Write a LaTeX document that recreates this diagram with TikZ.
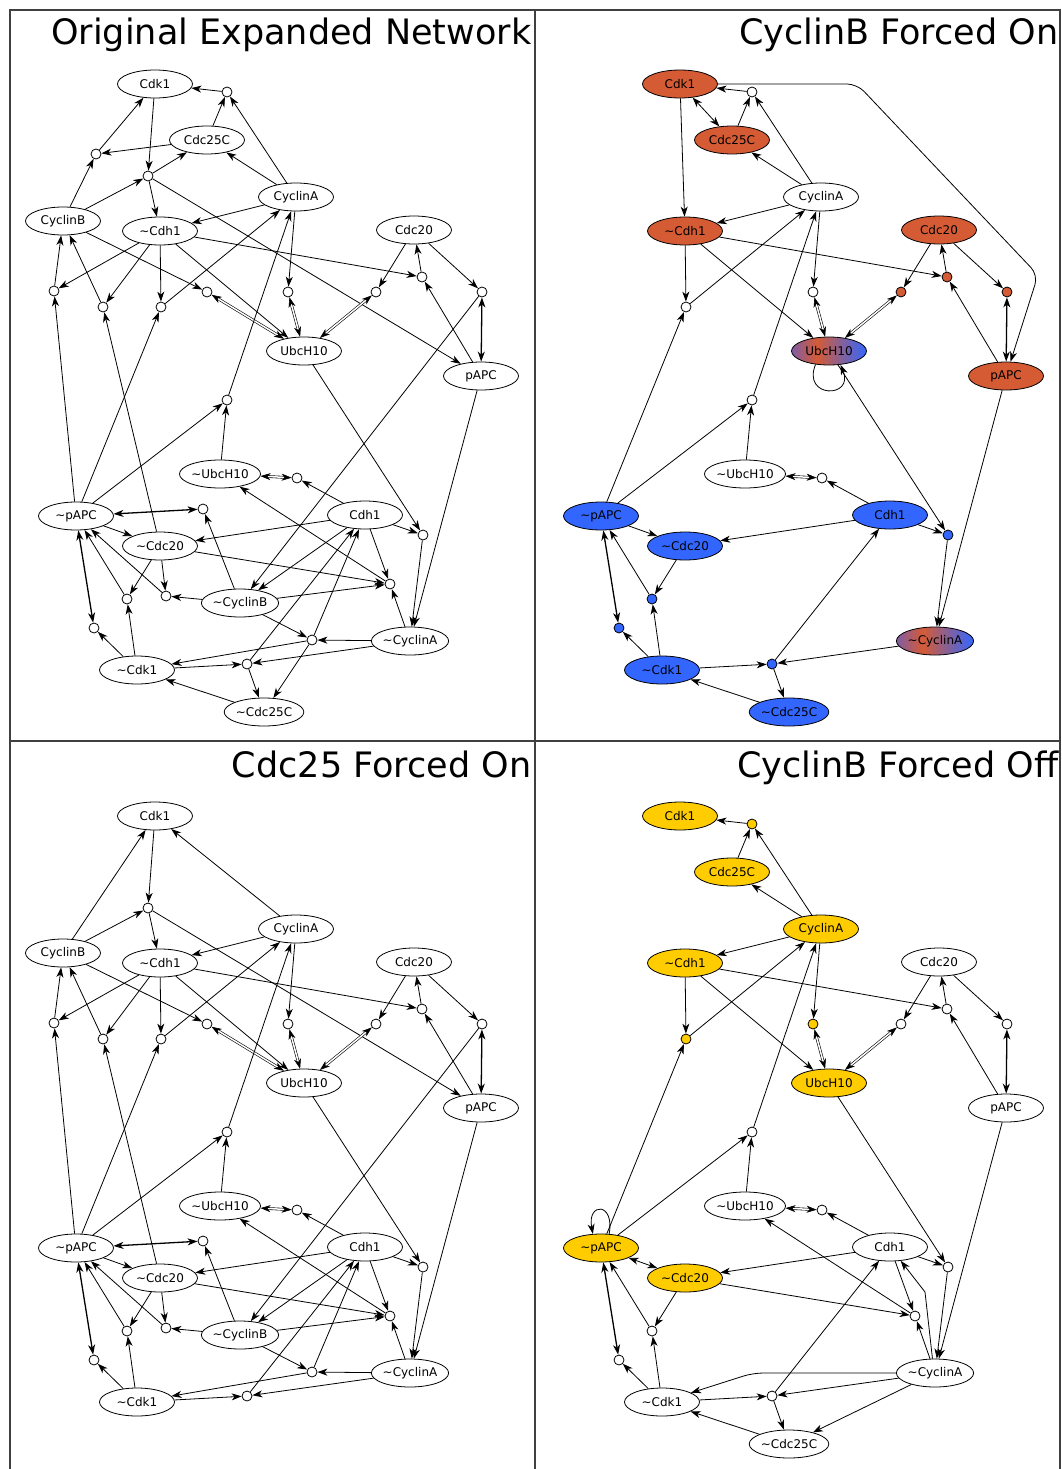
\documentclass[tikz,border=0pt]{standalone}
\usepackage{fontspec}
\setmainfont{DejaVu Sans}
\usetikzlibrary{shapes.geometric,arrows.meta}

\definecolor{forange}{RGB}{213,91,53}
\definecolor{fblue}{RGB}{51,102,255}
\definecolor{fyellow}{RGB}{255,204,0}
\definecolor{fpurple}{RGB}{128,92,165}
\pgfdeclarehorizontalshading{mixed}{100bp}{color(0bp)=(fpurple); color(25bp)=(fpurple); color(42bp)=(forange); color(75bp)=(fblue); color(100bp)=(fblue)}
\newcommand\nott{\textasciitilde}

\tikzset{
    gene/.style={ellipse, draw, fill=white, minimum width=75pt, minimum height=28pt, inner sep=0pt, font=\fontsize{12}{14}\selectfont},
    gate/.style={circle, draw, fill=white, minimum size=10pt, inner sep=0pt},
    orng/.style={fill=forange}, blu/.style={fill=fblue}, ylw/.style={fill=fyellow},
    mix/.style={shading=mixed},
    arr/.style={-{Stealth[length=10pt,width=7pt,inset=3pt]}},
    both/.style={{Stealth[length=10pt,width=7pt,inset=3pt]}-{Stealth[length=10pt,width=7pt,inset=3pt]}},
    pair/.style={both, line width=1.3pt},
    dbl/.style={both, double, double distance=1.5pt, line width=0.6pt},
    title/.style={anchor=base east, font=\fontsize{35}{40}\selectfont},
    frame/.style={draw=black!75, line width=1.6pt}
}

\begin{document}
\begin{tikzpicture}[x=1pt, y=-1pt, line width=0.8pt]
\useasboundingbox (0,0) rectangle (1062,1469);
\fill[white] (0,0) rectangle (1062,1469);

% panel frames
\draw[frame] (10,1469) -- (10,10) -- (1060,10) -- (1060,1469);
\draw[frame] (535,10) -- (535,1469);
\draw[frame] (10,741) -- (1060,741);

%% Original Expanded Network
\begin{scope}[name prefix=a-]
\node[title] (head) at (535,45) {Original Expanded Network};
\node[gene] (cdk1) at (155,84) {Cdk1};
\node[gene] (cdc25c) at (207,140) {Cdc25C};
\node[gene] (cyca) at (296,197) {CyclinA};
\node[gene] (cycb) at (63,221) {CyclinB};
\node[gene] (ncdh1) at (160,231) {\nott Cdh1};
\node[gene] (cdc20) at (414,230) {Cdc20};
\node[gene] (ubch10) at (304,351) {UbcH10};
\node[gene] (papc) at (481,376) {pAPC};
\node[gene] (nubch10) at (220,474) {\nott UbcH10};
\node[gene] (npapc) at (76,516) {\nott pAPC};
\node[gene] (cdh1) at (365,515) {Cdh1};
\node[gene] (ncdc20) at (160,546) {\nott Cdc20};
\node[gene] (ncycb) at (240,603) {\nott CyclinB};
\node[gene] (ncyca) at (410,641) {\nott CyclinA};
\node[gene] (ncdk1) at (137,670) {\nott Cdk1};
\node[gene] (ncdc25c) at (264,712) {\nott Cdc25C};
\node[gate] (g1) at (227,92) {};
\node[gate] (g2) at (96,154) {};
\node[gate] (g3) at (148,176) {};
\node[gate] (g4) at (54,291) {};
\node[gate] (g5) at (103,307) {};
\node[gate] (g6) at (161,307) {};
\node[gate] (g7) at (207,292) {};
\node[gate] (g8) at (288,292) {};
\node[gate] (g9) at (376,292) {};
\node[gate] (g10) at (422,277) {};
\node[gate] (g11) at (482,292) {};
\node[gate] (g12) at (227,400) {};
\node[gate] (g13) at (203,509) {};
\node[gate] (g14) at (127,599) {};
\node[gate] (g15) at (166,596) {};
\node[gate] (g16) at (94,628) {};
\node[gate] (g17) at (247,664) {};
\node[gate] (g18) at (297,478) {};
\node[gate] (g19) at (423,535) {};
\node[gate] (g20) at (390,584) {};
\node[gate] (g21) at (312,640) {};

\draw[arr] (cyca) -- (g1);
\draw[arr] (cdc25c) -- (g1);
\draw[arr] (g1) -- (cdk1);
\draw[arr] (cdc25c) -- (g2);
\draw[arr] (cycb) -- (g2);
\draw[arr] (g2) -- (cdk1);
\draw[arr] (cdk1) -- (g3);
\draw[arr] (cycb) -- (g3);
\draw[arr] (g3) -- (cdc25c);
\draw[arr] (g3) -- (ncdh1);
\draw[arr] (g3) -- (papc);
\draw[arr] (cyca) -- (cdc25c);
\draw[arr] (cyca) -- (ncdh1);
\draw[arr] (cyca) -- (g8);
\draw[arr] (ncdh1) -- (g4);
\draw[arr] (npapc) -- (g4);
\draw[arr] (g4) -- (cycb);
\draw[arr] (ncdh1) -- (g5);
\draw[arr] (ncdc20) -- (g5);
\draw[arr] (g5) -- (cycb);
\draw[arr] (ncdh1) -- (g6);
\draw[arr] (npapc) -- (g6);
\draw[arr] (g6) -- (cyca);
\draw[arr] (cycb) -- (g7);
\draw[dbl] (g7) -- (ubch10);
\draw[arr] (ncdh1) -- (ubch10);
\draw[arr] (ncdh1) -- (g10);
\draw[dbl] (g8) -- (ubch10);
\draw[arr] (cdc20) -- (g9);
\draw[dbl] (g9) -- (ubch10);
\draw[arr] (papc) -- (g10);
\draw[arr] (g10) -- (cdc20);
\draw[arr] (cdc20) -- (g11);
\draw[pair] (g11) -- (papc);
\draw[arr] (g11) -- (ncycb);
\draw[arr] (npapc) -- (g12);
\draw[arr] (nubch10) -- (g12);
\draw[arr] (g12) -- (cyca);
\draw[arr] (ubch10) -- (g19);
\draw[arr] (cdh1) -- (g19);
\draw[arr] (g19) -- (ncyca);
\draw[arr] (papc) -- (ncyca);
\draw[arr] (cdh1) -- (g18);
\draw[dbl] (g18) -- (nubch10);
\draw[arr] (cdh1) -- (ncdc20);
\draw[arr] (cdh1) -- (ncycb);
\draw[arr] (cdh1) -- (g20);
\draw[arr] (ncdc20) -- (g20);
\draw[arr] (ncycb) -- (g20);
\draw[arr] (ncyca) -- (g20);
\draw[arr] (g20) -- (nubch10);
\draw[arr] (ncycb) -- (g13);
\draw[pair] (g13) -- (npapc);
\draw[arr] (npapc) -- (ncdc20);
\draw[arr] (ncdc20) -- (g14);
\draw[arr] (ncdk1) -- (g14);
\draw[arr] (g14) -- (npapc);
\draw[arr] (ncdc20) -- (g15);
\draw[arr] (ncycb) -- (g15);
\draw[arr] (g15) -- (npapc);
\draw[arr] (ncdk1) -- (g16);
\draw[pair] (g16) -- (npapc);
\draw[arr] (ncdk1) -- (g17);
\draw[arr] (ncyca) -- (g17);
\draw[arr] (g17) -- (ncdc25c);
\draw[arr] (g17) -- (cdh1);
\draw[arr] (ncycb) -- (g21);
\draw[arr] (ncyca) -- (g21);
\draw[arr] (g21) -- (ncdk1);
\draw[arr] (g21) -- (ncdc25c);
\draw[arr] (g21) -- (cdh1);
\draw[arr] (ncdc25c) -- (ncdk1);
\end{scope}

%% CyclinB Forced On
\begin{scope}[shift={(525,0)}, name prefix=b-]
\node[title] (head) at (537,45) {CyclinB Forced On};
\node[gene, orng] (cdk1) at (155,84) {Cdk1};
\node[gene, orng] (cdc25c) at (207,140) {Cdc25C};
\node[gene] (cyca) at (296,197) {CyclinA};
\node[gene, orng] (ncdh1) at (160,231) {\nott Cdh1};
\node[gene, orng] (cdc20) at (414,230) {Cdc20};
\node[gene, mix] (ubch10) at (304,351) {UbcH10};
\node[gene, orng] (papc) at (481,376) {pAPC};
\node[gene] (nubch10) at (220,474) {\nott UbcH10};
\node[gene, blu] (npapc) at (76,516) {\nott pAPC};
\node[gene, blu] (cdh1) at (365,515) {Cdh1};
\node[gene, blu] (ncdc20) at (160,546) {\nott Cdc20};
\node[gene, mix] (ncyca) at (410,641) {\nott CyclinA};
\node[gene, blu] (ncdk1) at (137,670) {\nott Cdk1};
\node[gene, blu] (ncdc25c) at (264,712) {\nott Cdc25C};
\node[gate] (g1) at (227,92) {};
\node[gate] (g6) at (161,307) {};
\node[gate] (g8) at (288,292) {};
\node[gate, orng] (g9) at (376,292) {};
\node[gate, orng] (g10) at (422,277) {};
\node[gate, orng] (g11) at (482,292) {};
\node[gate] (g12) at (227,400) {};
\node[gate, blu] (g14) at (127,599) {};
\node[gate, blu] (g16) at (94,628) {};
\node[gate, blu] (g17) at (247,664) {};
\node[gate] (g18) at (297,478) {};
\node[gate, blu] (g19) at (423,535) {};
\coordinate (k1) at (332,84);
\coordinate (k2) at (513,275);

\draw[arr] (cyca) -- (g1);
\draw[arr] (cdc25c) -- (g1);
\draw[arr] (g1) -- (cdk1);
\draw[both] (cdk1) -- (cdc25c);
\draw[arr] (cdk1) -- (ncdh1);
\draw[arr, rounded corners=10pt] (cdk1) -- (k1) -- (k2) -- (papc);
\draw[arr] (cyca) -- (cdc25c);
\draw[arr] (cyca) -- (ncdh1);
\draw[arr] (cyca) -- (g8);
\draw[arr] (ncdh1) -- (g6);
\draw[arr] (npapc) -- (g6);
\draw[arr] (g6) -- (cyca);
\draw[arr] (npapc) -- (g12);
\draw[arr] (nubch10) -- (g12);
\draw[arr] (g12) -- (cyca);
\draw[arr] (ncdh1) -- (ubch10);
\draw[arr] (ncdh1) -- (g10);
\draw[dbl] (g8) -- (ubch10);
\draw[arr] (cdc20) -- (g9);
\draw[dbl] (g9) -- (ubch10);
\draw[arr] (papc) -- (g10);
\draw[arr] (g10) -- (cdc20);
\draw[arr] (cdc20) -- (g11);
\draw[pair] (g11) -- (papc);
\draw[arr] (ubch10.225) .. controls +(-14,34) and +(14,34) .. (ubch10.310);
\draw[arr] (ubch10) -- (g19);
\draw[arr] (cdh1) -- (g19);
\draw[arr] (g19) -- (ncyca);
\draw[arr] (papc) -- (ncyca);
\draw[arr] (cdh1) -- (g18);
\draw[dbl] (g18) -- (nubch10);
\draw[arr] (cdh1) -- (ncdc20);
\draw[arr] (npapc) -- (ncdc20);
\draw[arr] (ncdc20) -- (g14);
\draw[arr] (ncdk1) -- (g14);
\draw[arr] (g14) -- (npapc);
\draw[arr] (ncdk1) -- (g16);
\draw[pair] (g16) -- (npapc);
\draw[arr] (ncdk1) -- (g17);
\draw[arr] (ncyca) -- (g17);
\draw[arr] (g17) -- (ncdc25c);
\draw[arr] (g17) -- (cdh1);
\draw[arr] (ncdc25c) -- (ncdk1);
\end{scope}

%% Cdc25 Forced On
\begin{scope}[shift={(0,732)}, name prefix=c-]
\node[title] (head) at (535,45) {Cdc25 Forced On};
\node[gene] (cdk1) at (155,84) {Cdk1};
\node[gene] (cyca) at (296,197) {CyclinA};
\node[gene] (cycb) at (63,221) {CyclinB};
\node[gene] (ncdh1) at (160,231) {\nott Cdh1};
\node[gene] (cdc20) at (414,230) {Cdc20};
\node[gene] (ubch10) at (304,351) {UbcH10};
\node[gene] (papc) at (481,376) {pAPC};
\node[gene] (nubch10) at (220,474) {\nott UbcH10};
\node[gene] (npapc) at (76,516) {\nott pAPC};
\node[gene] (cdh1) at (365,515) {Cdh1};
\node[gene] (ncdc20) at (160,546) {\nott Cdc20};
\node[gene] (ncycb) at (240,603) {\nott CyclinB};
\node[gene] (ncyca) at (410,641) {\nott CyclinA};
\node[gene] (ncdk1) at (137,670) {\nott Cdk1};
\node[gate] (g3) at (148,176) {};
\node[gate] (g4) at (54,291) {};
\node[gate] (g5) at (103,307) {};
\node[gate] (g6) at (161,307) {};
\node[gate] (g7) at (207,292) {};
\node[gate] (g8) at (288,292) {};
\node[gate] (g9) at (376,292) {};
\node[gate] (g10) at (422,277) {};
\node[gate] (g11) at (482,292) {};
\node[gate] (g12) at (227,400) {};
\node[gate] (g13) at (203,509) {};
\node[gate] (g14) at (127,599) {};
\node[gate] (g15) at (166,596) {};
\node[gate] (g16) at (94,628) {};
\node[gate] (g17) at (247,664) {};
\node[gate] (g18) at (297,478) {};
\node[gate] (g19) at (423,535) {};
\node[gate] (g20) at (390,584) {};
\node[gate] (g21) at (312,640) {};

\draw[arr] (cyca) -- (cdk1);
\draw[arr] (cycb) -- (cdk1);
\draw[arr] (cdk1) -- (g3);
\draw[arr] (cycb) -- (g3);
\draw[arr] (g3) -- (ncdh1);
\draw[arr] (g3) -- (papc);
\draw[arr] (cyca) -- (ncdh1);
\draw[arr] (cyca) -- (g8);
\draw[arr] (ncdh1) -- (g4);
\draw[arr] (npapc) -- (g4);
\draw[arr] (g4) -- (cycb);
\draw[arr] (ncdh1) -- (g5);
\draw[arr] (ncdc20) -- (g5);
\draw[arr] (g5) -- (cycb);
\draw[arr] (ncdh1) -- (g6);
\draw[arr] (npapc) -- (g6);
\draw[arr] (g6) -- (cyca);
\draw[arr] (cycb) -- (g7);
\draw[dbl] (g7) -- (ubch10);
\draw[arr] (ncdh1) -- (ubch10);
\draw[arr] (ncdh1) -- (g10);
\draw[dbl] (g8) -- (ubch10);
\draw[arr] (cdc20) -- (g9);
\draw[dbl] (g9) -- (ubch10);
\draw[arr] (papc) -- (g10);
\draw[arr] (g10) -- (cdc20);
\draw[arr] (cdc20) -- (g11);
\draw[pair] (g11) -- (papc);
\draw[arr] (g11) -- (ncycb);
\draw[arr] (npapc) -- (g12);
\draw[arr] (nubch10) -- (g12);
\draw[arr] (g12) -- (cyca);
\draw[arr] (ubch10) -- (g19);
\draw[arr] (cdh1) -- (g19);
\draw[arr] (g19) -- (ncyca);
\draw[arr] (papc) -- (ncyca);
\draw[arr] (cdh1) -- (g18);
\draw[dbl] (g18) -- (nubch10);
\draw[arr] (cdh1) -- (ncdc20);
\draw[arr] (cdh1) -- (ncycb);
\draw[arr] (cdh1) -- (g20);
\draw[arr] (ncdc20) -- (g20);
\draw[arr] (ncycb) -- (g20);
\draw[arr] (ncyca) -- (g20);
\draw[arr] (g20) -- (nubch10);
\draw[arr] (ncycb) -- (g13);
\draw[pair] (g13) -- (npapc);
\draw[arr] (npapc) -- (ncdc20);
\draw[arr] (ncdc20) -- (g14);
\draw[arr] (ncdk1) -- (g14);
\draw[arr] (g14) -- (npapc);
\draw[arr] (ncdc20) -- (g15);
\draw[arr] (ncycb) -- (g15);
\draw[arr] (g15) -- (npapc);
\draw[arr] (ncdk1) -- (g16);
\draw[pair] (g16) -- (npapc);
\draw[arr] (ncdk1) -- (g17);
\draw[arr] (ncyca) -- (g17);
\draw[arr] (g17) -- (cdh1);
\draw[arr] (ncycb) -- (g21);
\draw[arr] (ncyca) -- (g21);
\draw[arr] (g21) -- (ncdk1);
\draw[arr] (g21) -- (cdh1);
\end{scope}

%% CyclinB Forced Off
\begin{scope}[shift={(525,732)}, name prefix=d-]
\node[title] (head) at (537,45) {CyclinB Forced Off};
\node[gene, ylw] (cdk1) at (155,84) {Cdk1};
\node[gene, ylw] (cdc25c) at (207,140) {Cdc25C};
\node[gene, ylw] (cyca) at (296,197) {CyclinA};
\node[gene, ylw] (ncdh1) at (160,231) {\nott Cdh1};
\node[gene] (cdc20) at (414,230) {Cdc20};
\node[gene, ylw] (ubch10) at (304,351) {UbcH10};
\node[gene] (papc) at (481,376) {pAPC};
\node[gene] (nubch10) at (220,474) {\nott UbcH10};
\node[gene, ylw] (npapc) at (76,516) {\nott pAPC};
\node[gene] (cdh1) at (365,515) {Cdh1};
\node[gene, ylw] (ncdc20) at (160,546) {\nott Cdc20};
\node[gene] (ncyca) at (410,641) {\nott CyclinA};
\node[gene] (ncdk1) at (137,670) {\nott Cdk1};
\node[gene] (ncdc25c) at (264,712) {\nott Cdc25C};
\node[gate, ylw] (g1) at (227,92) {};
\node[gate, ylw] (g6) at (161,307) {};
\node[gate, ylw] (g8) at (288,292) {};
\node[gate] (g9) at (376,292) {};
\node[gate] (g10) at (422,277) {};
\node[gate] (g11) at (482,292) {};
\node[gate] (g12) at (227,400) {};
\node[gate] (g14) at (127,599) {};
\node[gate] (g16) at (94,628) {};
\node[gate] (g17) at (247,664) {};
\node[gate] (g18) at (297,478) {};
\node[gate] (g19) at (423,535) {};
\node[gate] (g20) at (390,584) {};
\coordinate (k3) at (228,641);
\coordinate (k4) at (400,560);

\draw[arr] (cyca) -- (g1);
\draw[arr] (cdc25c) -- (g1);
\draw[arr] (g1) -- (cdk1);
\draw[arr] (cyca) -- (cdc25c);
\draw[arr] (cyca) -- (ncdh1);
\draw[arr] (cyca) -- (g8);
\draw[arr] (ncdh1) -- (g6);
\draw[arr] (npapc) -- (g6);
\draw[arr] (g6) -- (cyca);
\draw[arr] (npapc) -- (g12);
\draw[arr] (nubch10) -- (g12);
\draw[arr] (g12) -- (cyca);
\draw[arr] (ncdh1) -- (ubch10);
\draw[arr] (ncdh1) -- (g10);
\draw[dbl] (g8) -- (ubch10);
\draw[arr] (cdc20) -- (g9);
\draw[dbl] (g9) -- (ubch10);
\draw[arr] (papc) -- (g10);
\draw[arr] (g10) -- (cdc20);
\draw[arr] (cdc20) -- (g11);
\draw[pair] (g11) -- (papc);
\draw[arr] (ubch10) -- (g19);
\draw[arr] (cdh1) -- (g19);
\draw[arr] (g19) -- (ncyca);
\draw[arr] (papc) -- (ncyca);
\draw[arr] (cdh1) -- (g18);
\draw[dbl] (g18) -- (nubch10);
\draw[arr] (cdh1) -- (ncdc20);
\draw[arr] (cdh1) -- (g20);
\draw[arr] (ncdc20) -- (g20);
\draw[arr] (ncyca) -- (g20);
\draw[arr] (g20) -- (nubch10);
\draw[arr] (npapc.60) .. controls +(6,-32) and +(-6,-32) .. (npapc.120);
\draw[both] (npapc) -- (ncdc20);
\draw[arr] (ncdc20) -- (g14);
\draw[arr] (ncdk1) -- (g14);
\draw[arr] (g14) -- (npapc);
\draw[arr] (ncdk1) -- (g16);
\draw[pair] (g16) -- (npapc);
\draw[arr] (ncdk1) -- (g17);
\draw[arr] (ncyca) -- (g17);
\draw[arr] (g17) -- (ncdc25c);
\draw[arr] (g17) -- (cdh1);
\draw[arr, rounded corners=10pt] (ncyca) -- (k3) -- (ncdk1);
\draw[arr] (ncyca) -- (ncdc25c);
\draw[arr] (ncyca.100) -- (k4) -- (cdh1);
\draw[arr] (ncdc25c) -- (ncdk1);
\end{scope}
\end{tikzpicture}
\end{document}
